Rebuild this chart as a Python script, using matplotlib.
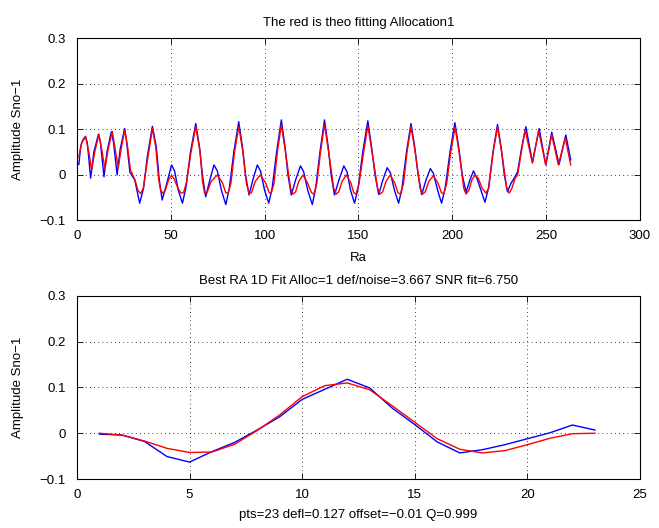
import matplotlib
matplotlib.use("Agg")
import matplotlib.pyplot as plt

# top panel: measured (blue) and theoretical fit (red) along Ra
ra_blue = [1.0, 2.0, 3.0, 4.5, 5.5, 7.3, 9.0, 11.5, 12.5, 14.4, 16.0, 18.3, 19.5, 21.4,
           23.0, 25.4, 26.5, 28.2, 30.8, 33.4, 35.5, 37.5, 40.2, 42.3, 43.8, 45.4, 47.5,
           50.4, 52.0, 54.0, 56.2, 58.0, 60.5, 63.3, 65.3, 66.8, 68.6, 70.6, 73.0, 74.8,
           77.0, 79.3, 81.2, 83.6, 86.2, 88.2, 89.8, 91.7, 93.7, 96.1, 97.8, 100.0, 102.2,
           104.0, 106.4, 108.9, 110.9, 112.4, 114.2, 116.5, 119.1, 120.8, 123.0, 125.4,
           127.2, 129.5, 131.9, 133.9, 135.4, 137.2, 139.6, 142.2, 143.9, 145.8, 147.9,
           149.8, 152.3, 155.0, 157.0, 158.8, 160.8, 163.0, 165.3, 167.0, 169.2, 171.4,
           173.2, 175.6, 178.0, 180.0, 181.8, 183.7, 186.0, 188.3, 190.0, 192.2, 194.3,
           196.2, 198.8, 201.4, 203.4, 205.3, 207.3, 209.4, 211.3, 213.1, 215.3, 217.4,
           219.3, 221.7, 224.1, 226.0, 227.7, 229.4, 231.2, 233.0, 234.8, 237.0, 239.2,
           242.7, 246.3, 249.8, 253.0, 256.9, 260.5, 263.1]
amp_blue = [0.022, 0.062, 0.075, 0.084, 0.070, -0.008, 0.050, 0.089, 0.070, -0.005, 0.050,
            0.094, 0.070, -0.001, 0.055, 0.101, 0.070, 0.005, -0.012, -0.063, -0.030, 0.040,
            0.106, 0.060, -0.010, -0.056, -0.025, 0.021, 0.008, -0.035, -0.063, -0.030,
            0.050, 0.112, 0.060, 0.000, -0.049, -0.015, 0.021, 0.008, -0.035, -0.066,
            -0.030, 0.050, 0.116, 0.060, 0.000, -0.045, -0.012, 0.021, 0.008, -0.035,
            -0.063, -0.030, 0.050, 0.120, 0.060, 0.000, -0.045, -0.012, 0.019, 0.006,
            -0.035, -0.066, -0.030, 0.050, 0.120, 0.060, 0.000, -0.045, -0.012, 0.019,
            0.006, -0.035, -0.063, -0.030, 0.050, 0.118, 0.060, 0.000, -0.044, -0.012,
            0.015, 0.004, -0.035, -0.063, -0.030, 0.050, 0.112, 0.060, 0.000, -0.044,
            -0.012, 0.013, 0.002, -0.035, -0.063, -0.030, 0.050, 0.114, 0.060, 0.000,
            -0.039, -0.012, 0.008, -0.008, -0.035, -0.061, -0.030, 0.050, 0.110, 0.060,
            0.000, -0.038, -0.020, -0.008, 0.006, 0.060, 0.105, 0.027, 0.101, 0.021, 0.093,
            0.022, 0.087, 0.032]

ra_red = [1.0, 2.5, 4.6, 6.3, 7.8, 9.5, 11.7, 13.4, 14.9, 16.6, 18.8, 20.4, 22.0, 23.7,
          25.5, 27.0, 28.5, 30.9, 32.5, 33.9, 35.3, 37.5, 40.2, 42.0, 43.5, 44.6, 45.8,
          47.0, 48.8, 50.4, 51.8, 53.8, 55.5, 56.8, 58.5, 60.8, 63.3, 65.6, 66.9, 68.0,
          69.3, 71.5, 74.8, 77.5, 79.3, 80.5, 82.0, 84.0, 86.2, 88.4, 90.3, 91.7, 93.0,
          95.0, 97.7, 100.5, 102.4, 103.5, 105.0, 106.8, 108.9, 111.1, 113.8, 115.1,
          116.5, 118.2, 120.4, 122.8, 125.0, 126.2, 127.8, 129.8, 131.9, 134.1, 136.8,
          138.1, 139.5, 141.3, 143.5, 145.9, 147.5, 148.7, 150.3, 152.8, 155.0, 157.2,
          160.2, 161.5, 162.9, 164.7, 166.9, 169.3, 171.0, 172.4, 174.0, 175.9, 178.0,
          180.2, 182.8, 184.2, 185.6, 187.5, 189.9, 192.3, 194.2, 195.4, 197.0, 199.2,
          201.5, 203.6, 206.1, 207.3, 208.8, 210.4, 212.1, 213.8, 215.9, 217.9, 219.4,
          221.8, 224.1, 226.3, 229.0, 230.3, 231.8, 233.5, 234.8, 236.8, 238.8, 242.7,
          246.0, 249.8, 253.0, 256.5, 260.2, 263.1]
amp_red = [0.039, 0.070, 0.083, 0.050, 0.010, 0.050, 0.088, 0.050, 0.013, 0.055, 0.095,
           0.055, 0.015, 0.060, 0.098, 0.060, 0.010, -0.012, -0.035, -0.042, -0.030,
           0.030, 0.101, 0.060, -0.010, -0.035, -0.041, -0.035, -0.012, -0.002, -0.010,
           -0.030, -0.041, -0.040, -0.015, 0.050, 0.105, 0.050, -0.015, -0.041, -0.040,
           -0.015, -0.001, -0.018, -0.040, -0.041, -0.020, 0.050, 0.105, 0.050, -0.020,
           -0.041, -0.040, -0.015, -0.001, -0.018, -0.040, -0.041, -0.020, 0.050, 0.109,
           0.050, -0.030, -0.043, -0.038, -0.015, -0.001, -0.018, -0.040, -0.043, -0.020,
           0.050, 0.110, 0.050, -0.030, -0.043, -0.038, -0.015, -0.001, -0.018, -0.040,
           -0.043, -0.020, 0.050, 0.107, 0.050, -0.030, -0.043, -0.038, -0.015, -0.001,
           -0.018, -0.040, -0.043, -0.020, 0.050, 0.105, 0.050, -0.030, -0.043, -0.038,
           -0.015, -0.003, -0.018, -0.040, -0.043, -0.020, 0.050, 0.104, 0.050, -0.030,
           -0.043, -0.035, -0.012, -0.001, -0.008, -0.030, -0.041, -0.030, 0.050, 0.104,
           0.050, -0.030, -0.041, -0.030, -0.008, -0.001, 0.050, 0.098, 0.025, 0.096,
           0.021, 0.087, 0.021, 0.080, 0.021]

# bottom panel: best 1D fit, 23 points
pts = list(range(1, 24))
fit_blue = [-0.002, -0.004, -0.018, -0.051, -0.063, -0.040, -0.020, 0.007, 0.036, 0.074,
            0.096, 0.118, 0.099, 0.055, 0.019, -0.019, -0.043, -0.036, -0.025, -0.012,
            0.001, 0.018, 0.007]
fit_red = [0.000, -0.004, -0.017, -0.033, -0.042, -0.041, -0.024, 0.006, 0.040, 0.080,
           0.104, 0.110, 0.095, 0.060, 0.024, -0.012, -0.035, -0.043, -0.038, -0.025,
           -0.011, -0.001, 0.000]

plt.rcParams["font.family"] = ["Liberation Sans", "DejaVu Sans"]
plt.rcParams["font.size"] = 9.5

fig = plt.figure(figsize=(6.59, 5.28), dpi=100)
ax1 = fig.add_axes([0.1168, 0.5833, 0.8543, 0.3447])
ax2 = fig.add_axes([0.1168, 0.0928, 0.8543, 0.3466])


def matlab_style(ax):
    ax.grid(True, color="black", linestyle=(0, (1, 4)), linewidth=0.6)
    ax.set_axisbelow(True)
    ax.tick_params(direction="in", top=True, right=True, length=4, width=0.6,
                   labelsize=9.5, colors="black")
    ax.tick_params(axis="x", pad=7)
    ax.tick_params(axis="y", pad=8)
    ax.yaxis.set_label_coords(-0.094, 0.5)
    for s in ax.spines.values():
        s.set_linewidth(0.8)
        s.set_color("black")


ax1.plot(ra_blue, amp_blue, color="#0000ff", linewidth=1.0)
ax1.plot(ra_red, amp_red, color="#ff0000", linewidth=1.0)
ax1.set_xlim(0, 300)
ax1.set_ylim(-0.1, 0.3)
ax1.set_xticks([0, 50, 100, 150, 200, 250, 300])
ax1.set_yticks([-0.1, 0, 0.1, 0.2, 0.3])
ax1.set_yticklabels(["\u22120.1", "0", "0.1", "0.2", "0.3"])
ax1.set_title("The red is theo fitting Allocation1", fontsize=9.5, pad=9)
ax1.set_xlabel("Ra", fontsize=9.5)
ax1.set_ylabel("Amplitude Sno\u22121", fontsize=9.5)
matlab_style(ax1)
ax1.xaxis.set_label_coords(0.5, -0.176)

ax2.plot(pts, fit_blue, color="#0000ff", linewidth=1.0)
ax2.plot(pts, fit_red, color="#ff0000", linewidth=1.0)
ax2.set_xlim(0, 25)
ax2.set_ylim(-0.1, 0.3)
ax2.set_xticks([0, 5, 10, 15, 20, 25])
ax2.set_yticks([-0.1, 0, 0.1, 0.2, 0.3])
ax2.set_yticklabels(["\u22120.1", "0", "0.1", "0.2", "0.3"])
ax2.set_title("Best RA 1D Fit Alloc=1 def/noise=3.667 SNR fit=6.750", fontsize=9.5, pad=8.5)
ax2.set_xlabel("pts=23 defl=0.127 offset=\u22120.01 Q=0.999", fontsize=9.5)
ax2.set_ylabel("Amplitude Sno\u22121", fontsize=9.5)
matlab_style(ax2)
ax2.xaxis.set_label_coords(0.5, -0.164)

fig.savefig("out.png", dpi=100)
